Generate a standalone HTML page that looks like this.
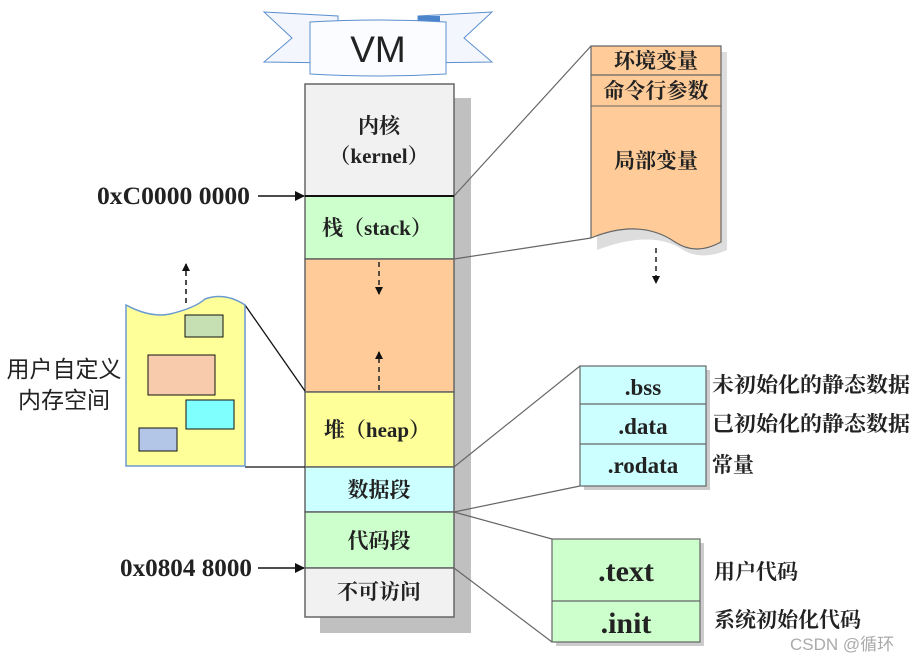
<!DOCTYPE html>
<html><head><meta charset="utf-8"><style>
html,body{margin:0;padding:0;background:#fff;}
svg{display:block;}
.s{font-family:"Liberation Serif","Noto Serif CJK SC",serif;font-weight:bold;fill:#222;}
.c{font-family:"Liberation Sans","Noto Sans CJK SC",sans-serif;fill:#222;}
</style></head><body>
<svg width="916" height="661" viewBox="0 0 916 661" xmlns="http://www.w3.org/2000/svg">
<defs>
<marker id="ar" markerWidth="8" markerHeight="8" refX="7" refY="4" orient="auto" markerUnits="userSpaceOnUse"><path d="M0,0 L8,4 L0,8 z" fill="#111"/></marker>
<marker id="ar2" markerWidth="10" markerHeight="10" refX="9" refY="5" orient="auto" markerUnits="userSpaceOnUse"><path d="M0,0 L10,5 L0,10 z" fill="#111"/></marker>
</defs>
<polygon points="264,12 338,16 338,63 264,62 292,38" fill="#f3f7fd" stroke="#5b8fcf" stroke-width="1"/>
<polygon points="492,12 418,16 418,63 492,62 464,38" fill="#f3f7fd" stroke="#5b8fcf" stroke-width="1"/>
<polygon points="418,16 440,16 440,24 418,24" fill="#4a85cc"/>
<path d="M310,22 Q378,18 446,22 L446,74 Q378,78 310,74 Z" fill="#fafcff" stroke="#5b8fcf" stroke-width="1"/>
<text x="378" y="62" text-anchor="middle" class="c" font-size="37">VM</text>

<rect x="320" y="98" width="151" height="535" fill="#c0c0c0"/>
<rect x="305" y="84" width="149" height="112" fill="#f1f1f1" stroke="#666" stroke-width="1.5"/>
<rect x="305" y="196" width="149" height="63" fill="#ccffcc" stroke="#666" stroke-width="1.5"/>
<rect x="305" y="259" width="149" height="133" fill="#ffcc99" stroke="#666" stroke-width="1.5"/>
<rect x="305" y="392" width="149" height="75" fill="#ffff99" stroke="#666" stroke-width="1.5"/>
<rect x="305" y="467" width="149" height="45" fill="#ccffff" stroke="#666" stroke-width="1.5"/>
<rect x="305" y="512" width="149" height="56" fill="#ccffcc" stroke="#666" stroke-width="1.5"/>
<rect x="305" y="568" width="149" height="49" fill="#f1f1f1" stroke="#666" stroke-width="1.5"/>
<line x1="305" y1="196" x2="454" y2="196" stroke="#111" stroke-width="2"/>
<text x="379" y="133" text-anchor="middle" class="s" font-size="21">内核</text>
<text x="379" y="163" text-anchor="middle" class="s" font-size="21">（kernel）</text>
<text x="377" y="235" text-anchor="middle" class="s" font-size="21">栈（stack）</text>
<text x="377" y="437" text-anchor="middle" class="s" font-size="21">堆（heap）</text>
<text x="379" y="497" text-anchor="middle" class="s" font-size="21">数据段</text>
<text x="379" y="548" text-anchor="middle" class="s" font-size="21">代码段</text>
<text x="379" y="599" text-anchor="middle" class="s" font-size="21">不可访问</text>
<line x1="379" y1="262" x2="379" y2="294" stroke="#222" stroke-width="1.5" stroke-dasharray="5,4" marker-end="url(#ar)"/>
<line x1="379" y1="390" x2="379" y2="352" stroke="#222" stroke-width="1.5" stroke-dasharray="5,4" marker-end="url(#ar)"/>

<text x="97" y="204" class="s" font-size="25" textLength="153" lengthAdjust="spacingAndGlyphs">0xC0000 0000</text>
<line x1="258" y1="196" x2="304" y2="196" stroke="#111" stroke-width="1.5" marker-end="url(#ar2)"/>
<text x="120" y="576" class="s" font-size="25" textLength="132" lengthAdjust="spacingAndGlyphs">0x0804 8000</text>
<line x1="258" y1="568" x2="304" y2="568" stroke="#111" stroke-width="1.5" marker-end="url(#ar2)"/>

<line x1="454" y1="196" x2="591" y2="46" stroke="#666" stroke-width="1.2"/>
<line x1="454" y1="259" x2="591" y2="238" stroke="#666" stroke-width="1.2"/>
<path d="M597,52 L727,52 L727,250 Q700,262 680,248 Q650,230 597,250 Z" fill="#ddd"/>
<path d="M591,46 L721,46 L721,242 Q696,256 675,242 Q640,218 591,238 Z" fill="#ffcc99" stroke="#666" stroke-width="1.2"/>
<line x1="591" y1="75" x2="721" y2="75" stroke="#666" stroke-width="1.2"/>
<line x1="591" y1="106" x2="721" y2="106" stroke="#666" stroke-width="1"/>
<text x="656" y="68" text-anchor="middle" class="s" font-size="21">环境变量</text>
<text x="656" y="98" text-anchor="middle" class="s" font-size="21">命令行参数</text>
<text x="656" y="168" text-anchor="middle" class="s" font-size="21">局部变量</text>
<line x1="656" y1="248" x2="656" y2="283" stroke="#222" stroke-width="1.5" stroke-dasharray="5,4" marker-end="url(#ar)"/>

<line x1="245" y1="305" x2="305" y2="391" stroke="#111" stroke-width="1.3"/>
<line x1="245" y1="467" x2="305" y2="467" stroke="#111" stroke-width="1.3"/>
<path d="M126,305 Q150,318 170,314 Q195,308 205,299 Q225,292 245,305 L245,466 L126,466 Z" fill="#ffff99" stroke="#6a9ad0" stroke-width="1.5"/>
<rect x="185" y="315" width="38" height="22" fill="#c6e0b4" stroke="#111"/>
<rect x="148" y="355" width="67" height="40" fill="#f8cbad" stroke="#111"/>
<rect x="186" y="400" width="48" height="29" fill="#80ffff" stroke="#111"/>
<rect x="139" y="428" width="38" height="23" fill="#b4c6e7" stroke="#111"/>
<line x1="186" y1="303" x2="186" y2="264" stroke="#111" stroke-width="1.5" stroke-dasharray="5,4" marker-end="url(#ar)"/>
<text x="64" y="377" text-anchor="middle" class="c" font-size="23">用户自定义</text>
<text x="64" y="408" text-anchor="middle" class="c" font-size="23">内存空间</text>

<line x1="454" y1="467" x2="580" y2="366" stroke="#666" stroke-width="1.2"/>
<line x1="454" y1="512" x2="580" y2="486" stroke="#666" stroke-width="1.2"/>
<rect x="584" y="370" width="126" height="120" fill="#ccc"/>
<rect x="580" y="366" width="126" height="120" fill="#ccffff" stroke="#666" stroke-width="1.2"/>
<line x1="580" y1="404" x2="706" y2="404" stroke="#666" stroke-width="1.2"/>
<line x1="580" y1="444" x2="706" y2="444" stroke="#666" stroke-width="1.2"/>
<text x="643" y="395" text-anchor="middle" class="s" font-size="23">.bss</text>
<text x="643" y="434" text-anchor="middle" class="s" font-size="23">.data</text>
<text x="643" y="473" text-anchor="middle" class="s" font-size="23">.rodata</text>
<text x="712" y="392" class="s" font-size="21" textLength="198" lengthAdjust="spacingAndGlyphs">未初始化的静态数据</text>
<text x="712" y="431" class="s" font-size="21" textLength="198" lengthAdjust="spacingAndGlyphs">已初始化的静态数据</text>
<text x="712" y="472" class="s" font-size="21">常量</text>

<line x1="454" y1="512" x2="552" y2="539" stroke="#666" stroke-width="1.2"/>
<line x1="454" y1="568" x2="552" y2="642" stroke="#666" stroke-width="1.2"/>
<rect x="556" y="543" width="148" height="103" fill="#ccc"/>
<rect x="552" y="539" width="148" height="103" fill="#ccffcc" stroke="#666" stroke-width="1.2"/>
<line x1="552" y1="601" x2="700" y2="601" stroke="#666" stroke-width="1.2"/>
<text x="626" y="581" text-anchor="middle" class="s" font-size="30">.text</text>
<text x="626" y="633" text-anchor="middle" class="s" font-size="30">.init</text>
<text x="714" y="579" class="s" font-size="21">用户代码</text>
<text x="714" y="627" class="s" font-size="21">系统初始化代码</text>
<text x="790" y="650" class="c" font-size="17" style="fill:#aaa">CSDN @循环</text>
</svg>
</body></html>
